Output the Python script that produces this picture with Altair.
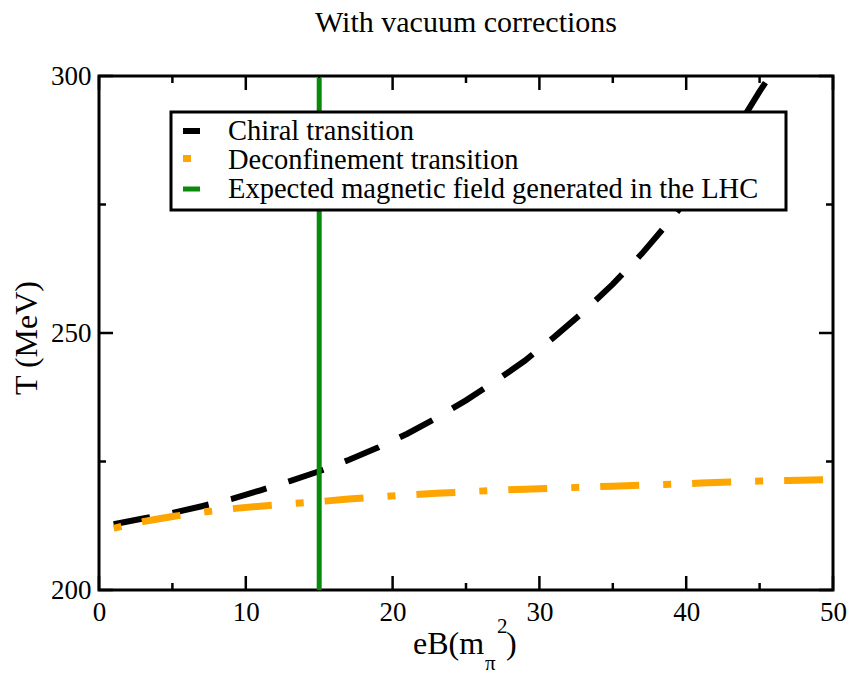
import altair as alt
import pandas as pd

# ---------------- data ----------------
TITLE = "With vacuum corrections"
Y_TITLE = "T (MeV)"
X_TITLE_MAIN = "eB(m"
X_TITLE_SUB = "π"
X_TITLE_SUP = "2"
X_TITLE_CLOSE = ")"

LEGEND_LABELS = [
    "Chiral transition",
    "Deconfinement transition",
    "Expected magnetic field generated in the LHC",
]

X_CHIRAL = [1, 3, 5, 7, 9, 11, 13, 15, 17, 19, 21, 23, 25, 27, 29, 31, 33, 35,
            37, 39, 41, 43, 45, 46.5]
T_CHIRAL = [212.8, 213.9, 215.0, 216.3, 217.7, 219.4, 221.2, 223.1, 225.3,
            227.7, 230.4, 233.5, 236.9, 240.6, 244.6, 249.2, 254.1, 259.5,
            265.5, 272.2, 279.5, 287.7, 297.0, 303.5]

X_DECONF = [1, 2, 3, 4, 5, 7, 9, 11, 13, 15, 17, 19, 21, 23, 25, 27, 29, 31,
            33, 35, 37, 39, 41, 43, 45, 47, 50]
T_DECONF = [212.0, 212.7, 213.3, 213.8, 214.3, 215.1, 215.8, 216.3, 216.8,
            217.2, 217.7, 218.1, 218.5, 218.8, 219.1, 219.4, 219.6, 219.8,
            220.0, 220.2, 220.4, 220.6, 220.8, 221.0, 221.2, 221.3, 221.5]

LHC_X = [15]
LHC_T_LOW = [200]
LHC_T_HIGH = [299.6]

X_MAJOR = [0, 10, 20, 30, 40, 50]
X_MINOR = [5, 15, 25, 35, 45]
Y_MAJOR = [200, 250, 300]
Y_MINOR = [225, 275]

# ---------------- styling ----------------
FONT = "Liberation Serif"
W, H = 734, 514
BLACK = "#000000"
ORANGE = "#FFA500"
GREEN = "#0a8a0a"

xscale = alt.Scale(domain=[0, 50], nice=False, zero=False)
yscale = alt.Scale(domain=[200, 300], nice=False, zero=False)

xaxis = alt.Axis(values=X_MAJOR, format="d", title=None, domain=False, ticks=False,
                 tickSize=0, grid=False, labelFont=FONT, labelFontSize=27,
                 labelColor="black", labelPadding=9, labelFlush=False,
                 labelOverlap=False, labelBound=False)
yaxis = alt.Axis(values=Y_MAJOR, format="d", title=None, domain=False, ticks=False,
                 tickSize=0, grid=False, labelFont=FONT, labelFontSize=27,
                 labelColor="black", labelPadding=8, labelOverlap=False,
                 labelBound=False)

chiral_df = pd.DataFrame({"x": X_CHIRAL, "T": T_CHIRAL})
deconf_df = pd.DataFrame({"x": X_DECONF, "T": T_DECONF})
lhc_df = pd.DataFrame({"x": LHC_X, "lo": LHC_T_LOW, "hi": LHC_T_HIGH})

chiral = alt.Chart(chiral_df).mark_line(
    color=BLACK, strokeWidth=6, strokeDash=[37, 23], clip=True, strokeCap="butt"
).encode(
    x=alt.X("x:Q", scale=xscale, axis=xaxis),
    y=alt.Y("T:Q", scale=yscale, axis=yaxis),
)

deconf = alt.Chart(deconf_df).mark_line(
    color=ORANGE, strokeWidth=7, strokeDash=[8, 21, 39, 24], clip=True, strokeCap="butt"
).encode(
    x=alt.X("x:Q", scale=xscale),
    y=alt.Y("T:Q", scale=yscale),
)

lhc = alt.Chart(lhc_df).mark_rule(color=GREEN, strokeWidth=5).encode(
    x=alt.X("x:Q", scale=xscale),
    y=alt.Y("lo:Q", scale=yscale),
    y2="hi:Q",
)

# ---------------- inward ticks on all four sides ----------------
def xticks(values, length):
    df = pd.DataFrame({"v": values})
    bottom = alt.Chart(df).mark_rule(color="black", strokeWidth=2.5).encode(
        x=alt.X("v:Q", scale=xscale), y=alt.value(H), y2=alt.value(H - length))
    top = alt.Chart(df).mark_rule(color="black", strokeWidth=2.5).encode(
        x=alt.X("v:Q", scale=xscale), y=alt.value(0), y2=alt.value(length))
    return [bottom, top]


def yticks(values, length):
    df = pd.DataFrame({"v": values})
    left = alt.Chart(df).mark_rule(color="black", strokeWidth=2.5).encode(
        y=alt.Y("v:Q", scale=yscale), x=alt.value(0), x2=alt.value(length))
    right = alt.Chart(df).mark_rule(color="black", strokeWidth=2.5).encode(
        y=alt.Y("v:Q", scale=yscale), x=alt.value(W), x2=alt.value(W - length))
    return [left, right]


tick_layers = xticks(X_MAJOR, 14) + xticks(X_MINOR, 7) + yticks(Y_MAJOR, 14) + yticks(Y_MINOR, 7)


# ---------------- text helpers ----------------
def text(label, x, y, size, align="left", baseline="alphabetic", angle=0):
    kw = dict(font=FONT, fontSize=size, color="black", align=align, baseline=baseline)
    if angle:
        kw["angle"] = angle
    return alt.Chart(pd.DataFrame({"t": [label]})).mark_text(**kw).encode(
        text="t:N", x=alt.value(x), y=alt.value(y))


title = text(TITLE, 367, -44, 30, align="center")
ytitle = text(Y_TITLE, -62, 262, 32, align="center", angle=270)
xt1 = text(X_TITLE_MAIN, 314, 578, 32)
xt2 = text(X_TITLE_SUB, 386, 594, 21)
xt3 = text(X_TITLE_SUP, 398, 557, 21)
xt4 = text(X_TITLE_CLOSE, 407, 578, 32)

# ---------------- legend box ----------------
one = pd.DataFrame({"k": [0]})
legend_box = alt.Chart(one).mark_rect(fill="white", stroke="black", strokeWidth=3).encode(
    x=alt.value(72), x2=alt.value(687), y=alt.value(36), y2=alt.value(134))
sym_chiral = alt.Chart(one).mark_rule(color=BLACK, strokeWidth=6).encode(
    x=alt.value(84), x2=alt.value(101), y=alt.value(55))
sym_deconf = alt.Chart(one).mark_rule(color=ORANGE, strokeWidth=7).encode(
    x=alt.value(84), x2=alt.value(92), y=alt.value(82.5))
sym_lhc = alt.Chart(one).mark_rule(color=GREEN, strokeWidth=5).encode(
    x=alt.value(84), x2=alt.value(101), y=alt.value(113))
leg_t1 = text(LEGEND_LABELS[0], 129, 64, 28.5)
leg_t2 = text(LEGEND_LABELS[1], 129, 93, 28.5)
leg_t3 = text(LEGEND_LABELS[2], 129, 122, 28.5)

chart = alt.layer(
    *tick_layers, chiral, deconf, lhc,
    legend_box, sym_chiral, sym_deconf, sym_lhc, leg_t1, leg_t2, leg_t3,
    title, ytitle, xt1, xt2, xt3, xt4,
).properties(
    width=W, height=H,
    autosize=alt.AutoSizeParams(type="none"),
    padding={"left": 99, "top": 76, "right": 16, "bottom": 84},
    background="white",
).configure_view(
    stroke="black", strokeWidth=3
)

chart.save("out.html", embed_options={"renderer": "svg", "actions": False})
